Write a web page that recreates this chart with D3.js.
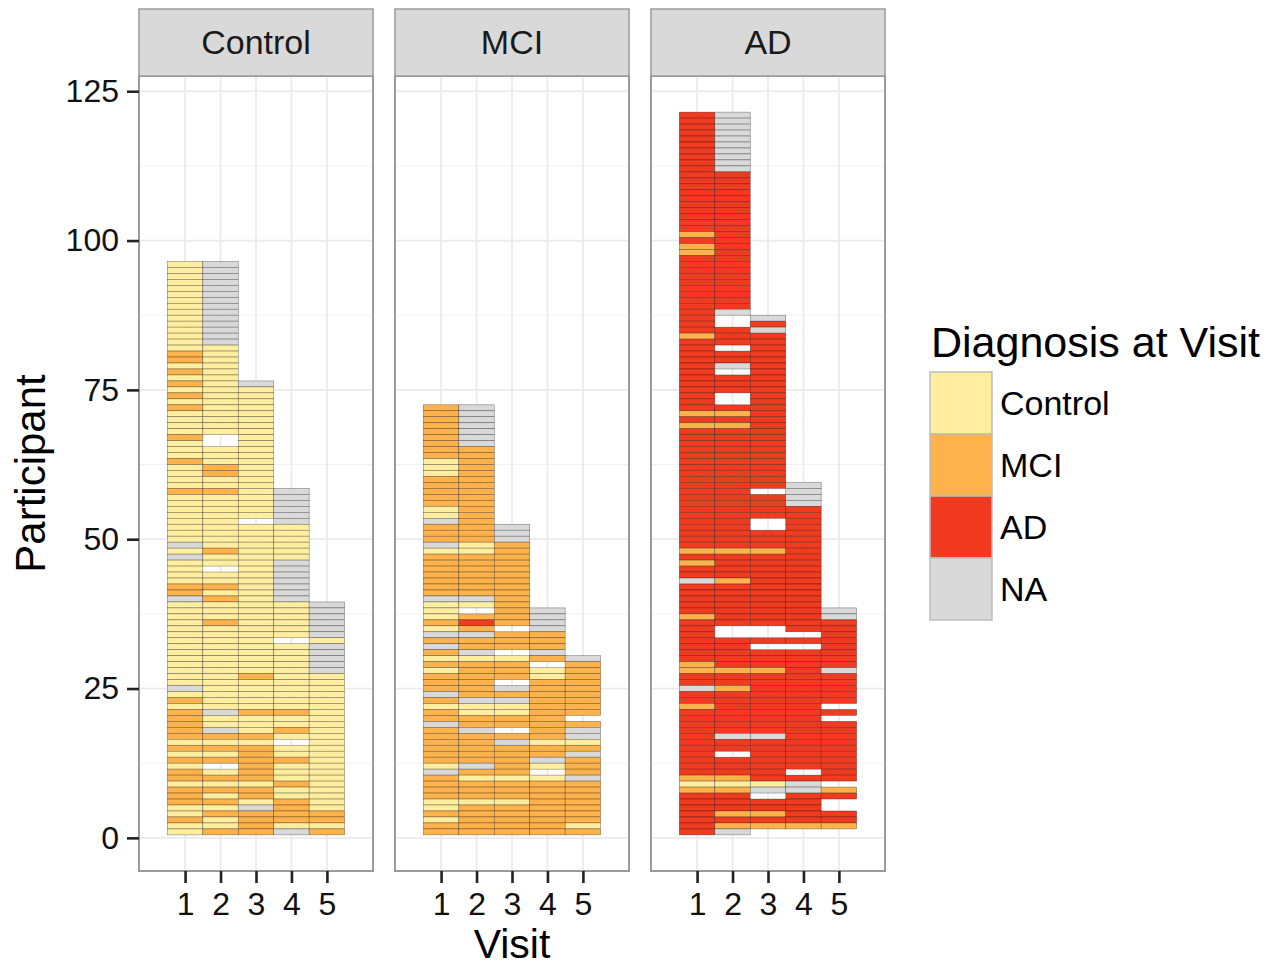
<!DOCTYPE html>
<html>
<head>
<meta charset="utf-8">
<script src="https://cdn.jsdelivr.net/npm/d3@7"></script>
<style>
  html, body { margin: 0; padding: 0; background: #fff; }
  svg { display: block; font-family: "Liberation Sans", Arial, Helvetica, sans-serif; }
</style>
</head>
<body>
<svg id="chart" width="1280" height="968"></svg>
<script>
// ---------------- DATA ----------------
const facets = ["Control", "MCI", "AD"];
const visits = [1, 2, 3, 4, 5];
const yTicks = [0, 25, 50, 75, 100, 125];
const yMinor = [12.5, 37.5, 62.5, 87.5, 112.5];
const diagnoses = ["Control", "MCI", "AD", "NA"];
const diagColors = ["#FFEDA0", "#FEB24C", "#F03B20", "#D9D9D9"];
const diagCodes = { C: "Control", M: "MCI", A: "AD", N: "NA" };

// Each visit column: run-length runs read from the top participant down to participant 1.
// C = Control, M = MCI, A = AD, N = NA, . = no record for that visit
const controlVisits = [
  "15C 2M 1C 1M 1C 1M 1C 1M 1C 1M 4C 1M 3C 1M 4C 1M 8C 1N 1C 1N 4C 2M 1N 14C 1N 1C 1M 1C 5M 1C 1M 1C 1M 1C 2M 1C 3M 2C 1M 2C",
  "14N 15C 2. 3C 2M 2C 1M 9C 1M 2C 1. 2C 1M 1C 1M 3C 1M 14C 1N 2C 1N 1M 1C 1M 1C 1M 1. 1C 1M 1C 1M 1C 1M 1C 1M 2C 1M",
  "1N 22C 1. 25C 1M 5C 1M 3C 1M 1C 6M 1C 2M 1C 1N 4M",
  "6N 6C 7N 6C 1. 11C 1M 2C 1M 1C 1. 2C 1M 3C 1M 2C 4M 1C 1N",
  "6N 1C 5N 23C 2M 1C 1M"
];
const mciVisits = [
  "9M 3C 5M 2C 1N 3M 1N 1C 7M 1N 3C 1M 1C 1N 1M 1N 1M 1C 1M 1C 3M 1N 1M 1C 2M 1N 6M 1C 1N 4M 2C 1M 1C 2M",
  "7N 16M 2C 7M 1N 1C 1. 1M 1A 1M 1N 2M 1N 1C 6M 1N 2C 2M 1N 5M 1N 1M 1C 3M 1C 5M",
  "3N 14M 1. 3M 1. 1C 3M 1. 1N 1M 1N 2C 2M 1. 1M 1N 5M 1C 3M 1C 5M",
  "4N 3M 1N 1M 1. 2C 10M 1C 2M 1N 1C 1. 1C 9M",
  "1N 9M 1. 1M 2N 1C 1M 1N 3M 1N 7M 1C 1M"
];
const adVisits = [
  "20A 1M 1A 2M 13A 1M 12A 1M 1A 1M 20A 1M 1A 1M 2A 1N 5A 1M 7A 2M 2A 1N 2A 1M 11A 1M 1C 1M 7A",
  "10N 23A 1N 2. 3A 1. 2A 1N 1. 3A 2. 1A 1M 1A 1M 20A 1M 4A 1M 7A 2. 5A 1M 2A 1M 7A 1N 2A 1. 3A 1M 1C 1M 3A 1M 1A 1M 1N",
  "1N 1A 1N 26A 1. 4A 2. 3A 1M 12A 2. 1A 1. 3A 1M 10A 1N 7A 1C 1N 1. 2A 1M 1A 1M 1.",
  "4N 21A 1. 1A 1. 20A 1. 1A 2N 5A 1M 1.",
  "2N 8A 1N 5A 1. 1A 1. 10A 1. 1M 1A 2. 2A 1M 1."
];
const facetColumns = [controlVisits, mciVisits, adVisits];

// ---------------- BUILD RECORDS ----------------
function decode(col) {
  const runs = col.trim().split(/\s+/).map(t => {
    const m = t.match(/^(\d+)(.)$/);
    return { n: +m[1], c: m[2] };
  });
  const total = d3.sum(runs, r => r.n);
  const out = [];
  let p = total;
  runs.forEach(r => {
    for (let i = 0; i < r.n; i++) {
      if (r.c !== ".") out.push({ participant: p, dx: diagCodes[r.c] });
      p--;
    }
  });
  return out;
}
const records = [];
facets.forEach((f, fi) => {
  facetColumns[fi].forEach((col, vi) => {
    decode(col).forEach(d => records.push({ facet: f, visit: visits[vi], participant: d.participant, dx: d.dx }));
  });
});

// ---------------- LAYOUT ----------------
const svg = d3.select("#chart");
const font = '"Liberation Sans", Arial, Helvetica, sans-serif';
const panelLefts = [139, 395, 651];
const panelW = 234, panelTop = 76, panelH = 795;
const stripTop = 9, stripH = 67;

const color = d3.scaleOrdinal().domain(diagnoses).range(diagColors);
const x = d3.scaleLinear().domain([-0.3, 6.3]).range([0, panelW]);
const y = d3.scaleLinear().domain([-5.55, 127.55]).range([panelH, 0]);

facets.forEach((f, fi) => {
  const g = svg.append("g").attr("transform", `translate(${panelLefts[fi]},${panelTop})`);

  // panel background
  g.append("rect").attr("width", panelW).attr("height", panelH).attr("fill", "#fff");

  // grid
  g.selectAll(".ymin").data(yMinor).enter().append("line")
    .attr("x1", 0).attr("x2", panelW).attr("y1", d => y(d)).attr("y2", d => y(d))
    .attr("stroke", "#F2F2F2").attr("stroke-width", 1);
  g.selectAll(".ymaj").data(yTicks).enter().append("line")
    .attr("x1", 0).attr("x2", panelW).attr("y1", d => y(d)).attr("y2", d => y(d))
    .attr("stroke", "#EBEBEB").attr("stroke-width", 1.8);
  g.selectAll(".xmaj").data(visits).enter().append("line")
    .attr("y1", 0).attr("y2", panelH).attr("x1", d => x(d)).attr("x2", d => x(d))
    .attr("stroke", "#EBEBEB").attr("stroke-width", 1.8);

  // tiles
  g.selectAll(".tile").data(records.filter(r => r.facet === f)).enter().append("rect")
    .attr("x", d => x(d.visit - 0.5))
    .attr("width", d => x(d.visit + 0.5) - x(d.visit - 0.5))
    .attr("y", d => y(d.participant + 0.5))
    .attr("height", d => y(d.participant - 0.5) - y(d.participant + 0.5))
    .attr("fill", d => color(d.dx))
    .attr("stroke", "#000").attr("stroke-opacity", 0.45).attr("stroke-width", 0.6);

  // panel border
  g.append("rect").attr("width", panelW).attr("height", panelH)
    .attr("fill", "none").attr("stroke", "#9A9A9A").attr("stroke-width", 2);

  // strip
  const s = svg.append("g").attr("transform", `translate(${panelLefts[fi]},${stripTop})`);
  s.append("rect").attr("width", panelW).attr("height", stripH)
    .attr("fill", "#D9D9D9").attr("stroke", "#9A9A9A").attr("stroke-width", 1.5);
  s.append("text").attr("x", panelW / 2).attr("y", stripH / 2 + 11)
    .attr("text-anchor", "middle").attr("font-size", 34).attr("fill", "#1a1a1a").text(f);

  // x axis
  const xa = g.append("g").attr("transform", `translate(0,${panelH})`)
    .call(d3.axisBottom(x).tickValues(visits).tickSize(12).tickPadding(9).tickFormat(d3.format("d")));
  xa.select(".domain").remove();
  xa.selectAll("line").attr("stroke", "#222").attr("stroke-width", 2.6);
  xa.selectAll("text").attr("font-size", 32).attr("font-family", font).attr("fill", "#111");

  if (fi === 0) {
    const ya = g.append("g").call(d3.axisLeft(y).tickValues(yTicks).tickSize(12).tickPadding(8));
    ya.select(".domain").remove();
    ya.selectAll("line").attr("stroke", "#222").attr("stroke-width", 2.6);
    ya.selectAll("text").attr("font-size", 32).attr("font-family", font).attr("fill", "#111");
  }
});

// axis titles
svg.append("text").attr("x", (panelLefts[0] + panelLefts[2] + panelW) / 2).attr("y", 958)
  .attr("text-anchor", "middle").attr("font-size", 41).attr("fill", "#000").text("Visit");
svg.append("text").attr("transform", `translate(45,${panelTop + panelH / 2}) rotate(-90)`)
  .attr("text-anchor", "middle").attr("font-size", 42).attr("fill", "#000").text("Participant");

// legend
const lg = svg.append("g").attr("transform", "translate(930,0)");
lg.append("text").attr("x", 1).attr("y", 357).attr("font-size", 43).attr("fill", "#000").text("Diagnosis at Visit");
const keyH = 62, keyW = 62, keyTop = 372;
diagnoses.forEach((dname, i) => {
  lg.append("rect").attr("x", 0).attr("y", keyTop + i * keyH).attr("width", keyW).attr("height", keyH)
    .attr("fill", color(dname)).attr("stroke", "#BDBDBD").attr("stroke-width", 1.5);
  lg.append("text").attr("x", 70).attr("y", keyTop + i * keyH + keyH / 2 + 12)
    .attr("font-size", 34).attr("fill", "#000").text(dname);
});
</script>
</body>
</html>
